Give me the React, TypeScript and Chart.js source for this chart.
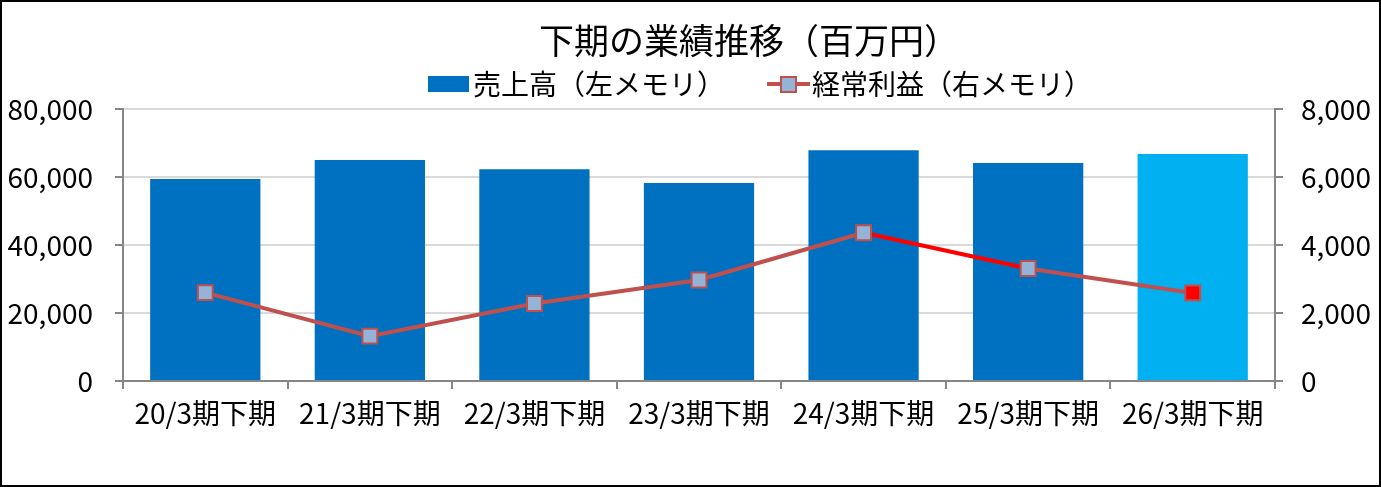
import { useEffect, useRef } from "react";
import { Chart, registerables } from "chart.js";

Chart.register(...registerables);

// chart data
const TITLE = "下期の業績推移（百万円）";
const categories = ["20/3期下期", "21/3期下期", "22/3期下期", "23/3期下期", "24/3期下期", "25/3期下期", "26/3期下期"];
const salesLabel = "売上高（左メモリ）";
const sales = [59400, 65000, 62300, 58200, 67900, 64100, 66750];
const profitLabel = "経常利益（右メモリ）";
const ordinaryProfit = [2600, 1320, 2280, 2970, 4360, 3310, 2590];
const leftTicks = [0, 20000, 40000, 60000, 80000];
const rightTicks = [0, 2000, 4000, 6000, 8000];

const FONT = '"Noto Sans CJK JP", "Noto Sans", sans-serif';
const BAR = "#0070C0";
const BAR_LAST = "#00B0F0";
const LINE = "#C0504D";
const LINE_HI = "#FF0000";
const MARKER = "#95B3D7";
const AXIS = "#868686";
const GRID = "#D9D9D9";

const lastIdx = categories.length - 1;
const fmt = (v: number) => v.toLocaleString("en-US");

// title + legend drawn by hand so they can sit off-centre like the original
const headerPlugin = {
    id: "header",
    afterDraw(chart: Chart) {
        const { ctx } = chart;
        ctx.save();
        ctx.textBaseline = "middle";
        ctx.textAlign = "left";
        ctx.fillStyle = "#000";
        ctx.font = `35px ${FONT}`;
        ctx.fillText(TITLE, 537, 39);

        ctx.font = `28px ${FONT}`;
        // bar item
        ctx.fillStyle = BAR;
        ctx.fillRect(426, 74, 41, 16);
        ctx.fillStyle = "#000";
        ctx.fillText(salesLabel, 471, 82);

        // line item
        ctx.strokeStyle = LINE;
        ctx.lineWidth = 4;
        ctx.beginPath();
        ctx.moveTo(765, 82);
        ctx.lineTo(808, 82);
        ctx.stroke();
        ctx.fillStyle = MARKER;
        ctx.fillRect(779, 75, 15, 15);
        ctx.lineWidth = 2;
        ctx.strokeRect(779, 75, 15, 15);
        ctx.fillStyle = "#000";
        ctx.fillText(profitLabel, 810, 82);
        ctx.restore();
    },
};

export default function App() {
    const canvasRef = useRef<HTMLCanvasElement | null>(null);

    useEffect(() => {
        const canvas = canvasRef.current;
        if (!canvas) return;

        const chart = new Chart(canvas, {
            type: "bar",
            data: {
                labels: categories,
                datasets: [
                    {
                        type: "bar",
                        label: salesLabel,
                        data: sales,
                        yAxisID: "y",
                        order: 1,
                        backgroundColor: sales.map((_, i) => (i === lastIdx ? BAR_LAST : BAR)),
                        barPercentage: 0.67,
                        categoryPercentage: 1,
                    },
                    {
                        type: "line",
                        label: profitLabel,
                        data: ordinaryProfit,
                        yAxisID: "y1",
                        order: 0,
                        borderColor: LINE,
                        borderWidth: 4,
                        segment: {
                            borderColor: (c: any) => (c.p0DataIndex === 4 ? LINE_HI : LINE),
                        },
                        pointStyle: "rect",
                        pointRadius: 10.5,
                        pointBorderWidth: 2,
                        pointBorderColor: LINE,
                        pointBackgroundColor: ordinaryProfit.map((_, i) => (i === lastIdx ? LINE_HI : MARKER)),
                    },
                ],
            },
            options: {
                animation: false,
                responsive: true,
                maintainAspectRatio: false,
                layout: { padding: { top: 107, left: 0, right: 0, bottom: 0 } },
                plugins: {
                    legend: { display: false },
                    title: { display: false },
                    tooltip: { enabled: false },
                },
                scales: {
                    x: {
                        afterFit: (s: any) => {
                            s.height = 104;
                        },
                        grid: {
                            offset: true,
                            drawOnChartArea: false,
                            color: AXIS,
                            lineWidth: 2,
                            tickLength: 8,
                        },
                        border: { color: AXIS, width: 2 },
                        ticks: { color: "#000", font: { family: FONT, size: 28 }, padding: 8, maxRotation: 0 },
                    },
                    y: {
                        position: "left",
                        min: leftTicks[0],
                        max: leftTicks[leftTicks.length - 1],
                        afterFit: (s: any) => {
                            s.width = 121;
                        },
                        afterBuildTicks: (s: any) => {
                            s.ticks = leftTicks.map((v) => ({ value: v }));
                        },
                        grid: { color: GRID, lineWidth: 2, tickColor: AXIS, tickLength: 8, tickWidth: 2 },
                        border: { color: AXIS, width: 2 },
                        ticks: {
                            color: "#000",
                            font: { family: FONT, size: 28 },
                            padding: 22,
                            callback: (v: any) => fmt(Number(v)),
                        },
                    },
                    y1: {
                        position: "right",
                        min: rightTicks[0],
                        max: rightTicks[rightTicks.length - 1],
                        afterFit: (s: any) => {
                            s.width = 104;
                        },
                        afterBuildTicks: (s: any) => {
                            s.ticks = rightTicks.map((v) => ({ value: v }));
                        },
                        grid: { drawOnChartArea: false, color: AXIS, lineWidth: 2, tickLength: 8 },
                        border: { color: AXIS, width: 2 },
                        ticks: {
                            color: "#000",
                            font: { family: FONT, size: 28 },
                            padding: 18,
                            callback: (v: any) => fmt(Number(v)),
                        },
                    },
                },
            },
            plugins: [headerPlugin],
        });

        return () => {
            chart.destroy();
        };
    }, []);

    return (
        <div
            style={{
                position: "absolute",
                left: 0,
                top: 0,
                width: 1381,
                height: 487,
                boxSizing: "border-box",
                border: "2px solid #000",
                background: "#fff",
            }}
        >
            <canvas ref={canvasRef}></canvas>
        </div>
    );
}
